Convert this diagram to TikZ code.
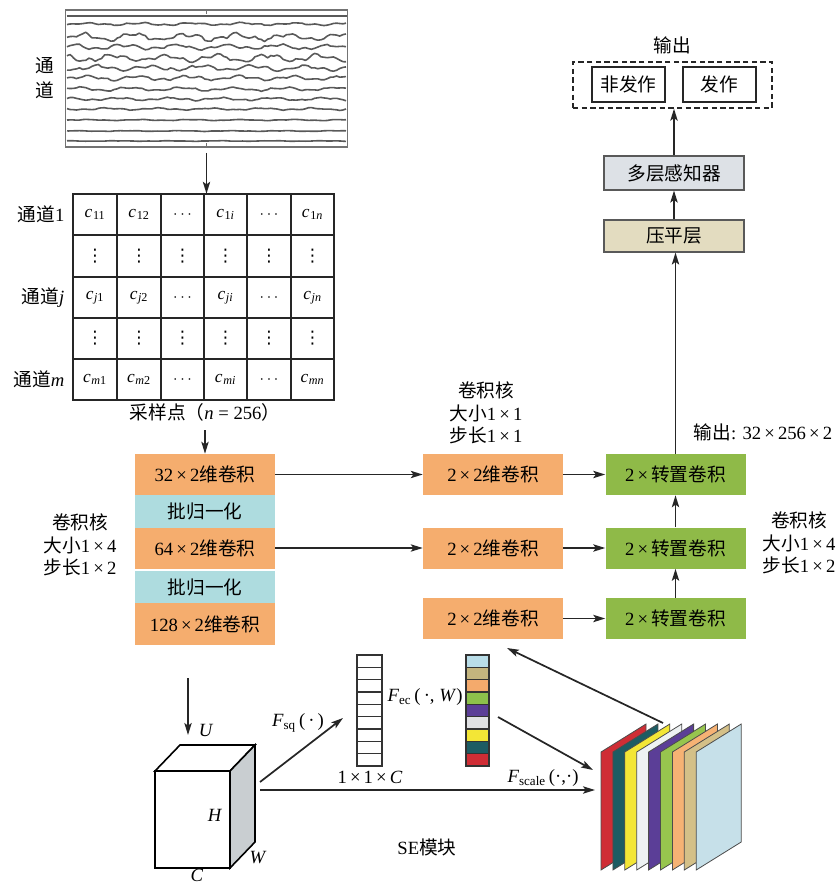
\documentclass[tikz,border=0pt]{standalone}
\usepackage{fontspec}
\setmainfont{Liberation Serif}
\newfontfamily\cjk{Noto Sans CJK SC}
\newfontfamily\dejavu{DejaVu Sans}
\usetikzlibrary{arrows.meta}
\newcommand\zh[1]{{\cjk #1}}
\newcommand\cc[1]{\textit{c}\kern0.5pt\textsubscript{#1}}
\definecolor{corange}{HTML}{F5AD6E}
\definecolor{cblue}{HTML}{AEDCDF}
\definecolor{cgreen}{HTML}{8FBA48}
\definecolor{cbeige}{HTML}{E3DCC0}
\definecolor{cgray}{HTML}{DDE1E6}
\definecolor{cside}{HTML}{C9CED1}
\definecolor{vlblue}{HTML}{B9DDE8}
\definecolor{vtan}{HTML}{C4B57E}
\definecolor{vorange}{HTML}{F4AA6C}
\definecolor{vgreen}{HTML}{8DC14B}
\definecolor{vpurple}{HTML}{5B3E97}
\definecolor{vlgray}{HTML}{E0E1E3}
\definecolor{vyellow}{HTML}{F3E636}
\definecolor{vteal}{HTML}{1D5C63}
\definecolor{vred}{HTML}{CF2D35}
\definecolor{swhite}{HTML}{EEF2F3}
\definecolor{stan}{HTML}{D4C088}
\definecolor{slblue}{HTML}{C6E0E9}
\definecolor{sorange}{HTML}{F6B274}
\definecolor{sgreen}{HTML}{97C54E}
\tikzset{
  txt/.style={font=\fontsize{14pt}{17pt}\selectfont, inner sep=1pt},
  box/.style={txt, inner sep=0pt, minimum width=105pt, minimum height=30.75pt},
  conv/.style={box, fill=corange},
  bn/.style={box, fill=cblue},
  tconv/.style={box, fill=cgreen},
  arr/.style={-{Stealth[length=9pt,width=5.5pt,inset=2pt]}, line width=1.3pt, draw=black!85},
  trace/.style={line width=1.2pt, draw=black!65},
  cell/.style={font=\fontsize{13pt}{15pt}\selectfont, inner sep=0.5pt},
  vd/.style={font=\dejavu\fontsize{13pt}{15pt}\selectfont, inner sep=0pt},
}
\begin{document}
\begin{tikzpicture}[x=0.75pt,y=-0.75pt]
\useasboundingbox (0,0) rectangle (838,885);

% ---- signal box
\node[draw=black!55, line width=0.8pt, minimum width=211.5pt, minimum height=102.75pt, inner sep=0pt] (sig) at (206.5,78.5) {};
\draw[black!55, line width=0.8pt] (206.5,10) -- (206.5,14) (206.5,143) -- (206.5,147);
\draw[trace] (66.5,16) -- (346.5,16);
\pgfmathsetseed{11}
\foreach \yy/\aa/\ph in {24/1.5/10, 37/4/50, 47/3/120, 58/4/200, 68/3/300, 78/2.5/30, 89/2/80, 99/1.6/160, 109/1.2/240, 120/0.6/20, 131/0.4/90, 141/0.3/170} {
  \draw[trace] plot[smooth, domain=67:346, samples=90] (\x, {\yy + \aa*(0.65*sin(7*\x+\ph)+0.35*sin(19*\x+2*\ph)) + 0.25*\aa*rand});
}
\node[txt, align=center] (chlab) at (45,78) {\zh{通}\\[2pt]\zh{道}};

% ---- matrix
\node[minimum width=195.75pt, minimum height=154.5pt, inner sep=0pt] (mat) at (203.5,297) {};
\draw[line width=1.4pt, black!85] (73,194) rectangle (334,400);
\foreach \xx in {117,161,204,247,291} \draw[line width=1.4pt, black!85] (\xx,194) -- (\xx,400);
\foreach \yy in {235,277,318,359} \draw[line width=1.4pt, black!85] (73,\yy) -- (334,\yy);
\node[cell] (c11) at (95,214.5) {\cc{11}};
\node[cell] (c12) at (139,214.5) {\cc{12}};
\node[cell] (c1i) at (225.5,214.5) {\cc{1\textit{i}}};
\node[cell] (c1n) at (312.5,214.5) {\cc{1\textit{n}}};
\node[cell] (cj1) at (95,297.5) {\cc{\textit{j}1}};
\node[cell] (cj2) at (139,297.5) {\cc{\textit{j}2}};
\node[cell] (cji) at (225.5,297.5) {\cc{\textit{ji}}};
\node[cell] (cjn) at (312.5,297.5) {\cc{\textit{jn}}};
\node[cell] (cm1) at (95,379.5) {\cc{\textit{m}1}};
\node[cell] (cm2) at (139,379.5) {\cc{\textit{m}2}};
\node[cell] (cmi) at (225.5,379.5) {\cc{\textit{mi}}};
\node[cell] (cmn) at (312.5,379.5) {\cc{\textit{mn}}};
\foreach \yy in {214.5,297.5,379.5} {
  \node[cell] at (182.5,\yy) {$\cdots$};
  \node[cell] at (269,\yy) {$\cdots$};
}
\foreach \yy in {256,338.5} \foreach \xx in {95,139,182.5,225.5,269,312.5} \node[vd] at (\xx,\yy) {⋮};
\node[txt, anchor=east] (r1) at (66,214.5) {\zh{通道}1};
\node[txt, anchor=east] (rj) at (66,297.5) {\zh{通道}\textit{j}};
\node[txt, anchor=east] (rm) at (66,379.5) {\zh{通道}\textit{m}};
\node[txt] (cap) at (205,412) {\zh{采样点（}\textit{n} = 256\zh{）}};

% ---- encoder column
\node[conv] (o1) at (205,474.5) {32\,×\,2\zh{维卷积}};
\node[bn, minimum height=24.75pt] (b1) at (205,511.5) {\zh{批归一化}};
\node[conv] (o2) at (205,548) {64\,×\,2\zh{维卷积}};
\node[bn, minimum height=24pt] (b2) at (205,587) {\zh{批归一化}};
\node[conv, minimum height=31.5pt] (o3) at (205,624) {128\,×\,2\zh{维卷积}};
\node[txt, align=center] (klab1) at (80,545) {\zh{卷积核}\\\zh{大小}1\,×\,4\\\zh{步长}1\,×\,2};

% ---- middle column
\node[conv] (m1) at (493,474.5) {2\,×\,2\zh{维卷积}};
\node[conv] (m2) at (493,548) {2\,×\,2\zh{维卷积}};
\node[conv] (m3) at (493,618.5) {2\,×\,2\zh{维卷积}};
\node[txt, align=center] (klab2) at (486,413) {\zh{卷积核}\\\zh{大小}1\,×\,1\\\zh{步长}1\,×\,1};

% ---- decoder column
\node[tconv] (g1) at (675.5,474.5) {2\,×\,\zh{转置卷积}};
\node[tconv] (g2) at (675.5,548) {2\,×\,\zh{转置卷积}};
\node[tconv] (g3) at (675.5,618.5) {2\,×\,\zh{转置卷积}};
\node[txt] (outlab) at (763,432) {\zh{输出}: 32\,×\,256\,×\,2};
\node[txt, align=center] (klab3) at (799,543) {\zh{卷积核}\\\zh{大小}1\,×\,4\\\zh{步长}1\,×\,2};

% ---- head
\node[box, fill=cbeige, draw=black!65, line width=0.8pt, minimum height=24pt] (flat) at (674,236) {\zh{压平层}};
\node[box, fill=cgray, draw=black!65, line width=0.8pt, minimum height=25.5pt] (mlp) at (674,173) {\zh{多层感知器}};
\node[draw=black!85, dashed, dash pattern=on 4pt off 2.5pt, line width=1pt, minimum width=149.25pt, minimum height=34.5pt, inner sep=0pt] (outbox) at (672.5,85) {};
\node[txt, draw=black!85, line width=1pt, minimum width=54.75pt, minimum height=26.25pt, inner sep=0pt] (non) at (628.5,84.5) {\zh{非发作}};
\node[txt, draw=black!85, line width=1pt, minimum width=54.75pt, minimum height=26.25pt, inner sep=0pt] (sei) at (719.5,84.5) {\zh{发作}};
\node[txt] (outtitle) at (672,45) {\zh{输出}};

% ---- arrows main
\draw[arr, shorten <=4pt] (sig.south) -- (sig.south |- mat.north);
\draw[arr, shorten <=6pt] (cap.south) -- (o1.north);
\draw[arr] (o1.east) -- (m1.west);
\draw[arr] (o2.east) -- (m2.west);
\draw[arr] (m1.east) -- (g1.west);
\draw[arr] (m2.east) -- (g2.west);
\draw[arr] (m3.east) -- (g3.west);
\draw[arr] (g3.north) -- (g2.south);
\draw[arr] (g2.north) -- (g1.south);
\draw[arr] (g1.north) -- (g1.north |- flat.south);
\draw[arr] (flat.north) -- (flat.north |- mlp.south);
\draw[arr] (mlp.north) -- (mlp.north |- outbox.south);

% ---- SE module
\coordinate (uin) at (188,678);
\coordinate (uout) at (188,735);
\draw[arr] (uin) -- (uout);
\draw[line width=1.2pt, fill=white] (155,771) -- (180,745) -- (255,745) -- (230,771) -- cycle;
\draw[line width=1.2pt, fill=cside] (230,771) -- (255,745) -- (255,842) -- (230,868) -- cycle;
\draw[line width=1.2pt, fill=white] (155,771) rectangle (230,868);
\node[txt] (lU) at (206,730) {\textit{U}};
\node[txt] (lH) at (215,815) {\textit{H}};
\node[txt] (lW) at (258,858) {\textit{W}};
\node[txt] (lC) at (197,875) {\textit{C}};

\foreach \i in {0,...,8} \draw[line width=0.9pt, black!80, fill=white] (357,655+12.33*\i) rectangle +(25,12.33);
\foreach \c [count=\i from 0] in {vlblue,vtan,vorange,vgreen,vpurple,vlgray,vyellow,vteal,vred}
  \draw[line width=0.9pt, black!80, fill=\c] (466,655+12.33*\i) rectangle +(23,12.33);
\node[txt] (l11c) at (370,777) {1\,×\,1\,×\,\textit{C}};
\node[txt] (lfsq) at (298,723) {\textit{F}\textsubscript{sq}\,(\,·\,)};
\node[txt] (lfec) at (425,697) {\textit{F}\textsubscript{ec}\,(\,·, \textit{W})};
\node[txt] (lfsc) at (543,778) {\textit{F}\textsubscript{scale}\,(·,·)};
\node[txt] (lse) at (427,847) {SE\zh{模块}};

\foreach \c [count=\i from 0] in {vred,vteal,vyellow,swhite,vpurple,sgreen,sorange,stan,slblue} {
  \pgfmathsetmacro\lx{601+11.9*\i}
  \draw[line width=0.6pt, black!70, fill=\c] (\lx,870) -- (\lx,752) -- (\lx+45,724) -- (\lx+45,842) -- cycle;
}
\coordinate (cubeA) at (260,782);
\coordinate (vecA) at (343,718);
\coordinate (cubeB) at (260,790);
\coordinate (stackB) at (595,790);
\coordinate (cvecA) at (498,717);
\coordinate (stackA) at (593,770);
\coordinate (stackTop) at (663,723);
\coordinate (m3tip) at (507,648);
\draw[arr] (cubeA) -- (vecA);
\draw[arr] (cubeB) -- (stackB);
\draw[arr] (cvecA) -- (stackA);
\draw[arr] (stackTop) -- (m3tip);
\end{tikzpicture}
\end{document}
